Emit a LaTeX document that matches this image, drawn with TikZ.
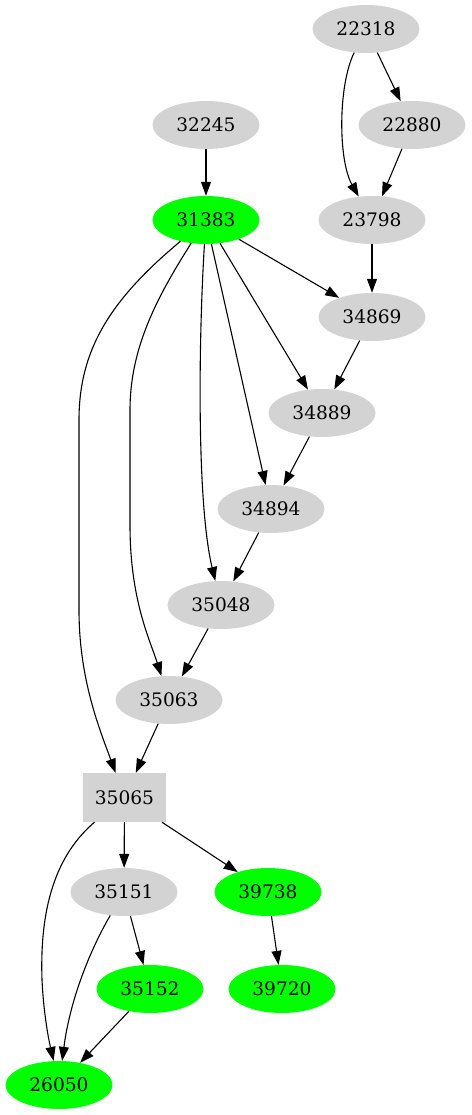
\documentclass[tikz,border=0pt]{standalone}
\usepackage{fontspec}
\setmainfont{DejaVu Serif}
\usepackage{xcolor}
\usetikzlibrary{arrows.meta,shapes.geometric}
\definecolor{nodegray}{HTML}{D3D3D3}
\definecolor{hitgreen}{HTML}{00FF00}

\begin{document}
\begin{tikzpicture}[
  x=1pt,y=-1pt,
  every node/.style={font=\fontsize{18.6}{20}\selectfont,inner sep=0pt},
  gnode/.style={ellipse,fill=nodegray,minimum width=107pt,minimum height=48pt},
  hit/.style={ellipse,fill=hitgreen,minimum width=107pt,minimum height=48pt},
  graybox/.style={rectangle,fill=nodegray,minimum width=83pt,minimum height=49pt},
  arr/.style={-{Triangle[length=14pt,width=10pt]},line width=1.1pt,black}
]
\useasboundingbox (0,0) rectangle (471,1115);
\node[gnode] (n22318) at (366,29) {22318};
\node[gnode] (n22880) at (412,125) {22880};
\node[gnode] (n32245) at (206,125) {32245};
\node[hit] (n31383) at (206,220) {31383};
\node[gnode] (n23798) at (372,220) {23798};
\node[gnode] (n34869) at (372,317) {34869};
\node[gnode] (n34889) at (322,413) {34889};
\node[gnode] (n34894) at (271,509) {34894};
\node[gnode] (n35048) at (221,605) {35048};
\node[gnode] (n35063) at (169,700) {35063};
\node[graybox] (n35065) at (124.5,797.5) {35065};
\node[gnode] (n35151) at (124,892) {35151};
\node[hit] (n39738) at (268,892) {39738};
\node[hit] (n35152) at (150,989) {35152};
\node[hit] (n39720) at (282,989) {39720};
\node[hit] (n26050) at (59,1085) {26050};
% top part
\draw[arr] (n22318)--(n22880);
\draw[arr] (n22318) .. controls (338,85) and (338,160) .. (n23798);
\draw[arr] (n22880)--(n23798);
\draw[arr] (n32245)--(n31383);
\draw[arr] (n23798)--(n34869);
% edges out of 31383
\draw[arr] (n31383)--(n34869);
\draw[arr] (n31383)--(n34889);
\draw[arr] (n31383)--(n34894);
\draw[arr] (n31383) .. controls (199,330) and (196,500) .. (n35048);
\draw[arr] (n31383) .. controls (155,300) and (130,350) .. (130,410)
  -- (130,525) .. controls (130,600) and (150,640) .. (n35063);
\draw[arr] (n31383) .. controls (110,300) and (79,350) .. (79,420)
  -- (79,610) .. controls (79,680) and (100,730) .. (n35065);
% chain
\draw[arr] (n34869)--(n34889);
\draw[arr] (n34889)--(n34894);
\draw[arr] (n34894)--(n35048);
\draw[arr] (n35048)--(n35063);
\draw[arr] (n35063)--(n35065);
% bottom part
\draw[arr] (n35065)--(n35151);
\draw[arr] (n35065)--(n39738);
\draw[arr] ([xshift=-30pt]n35065.south) .. controls (50,860) and (40,920) .. (42,980)
  .. controls (44,1020) and (50,1045) .. (n26050);
\draw[arr] (n35151)--(n35152);
\draw[arr] (n35151) .. controls (90,950) and (70,1000) .. (n26050);
\draw[arr] (n35152)--(n26050);
\draw[arr] (n39738)--(n39720);
\end{tikzpicture}
\end{document}
